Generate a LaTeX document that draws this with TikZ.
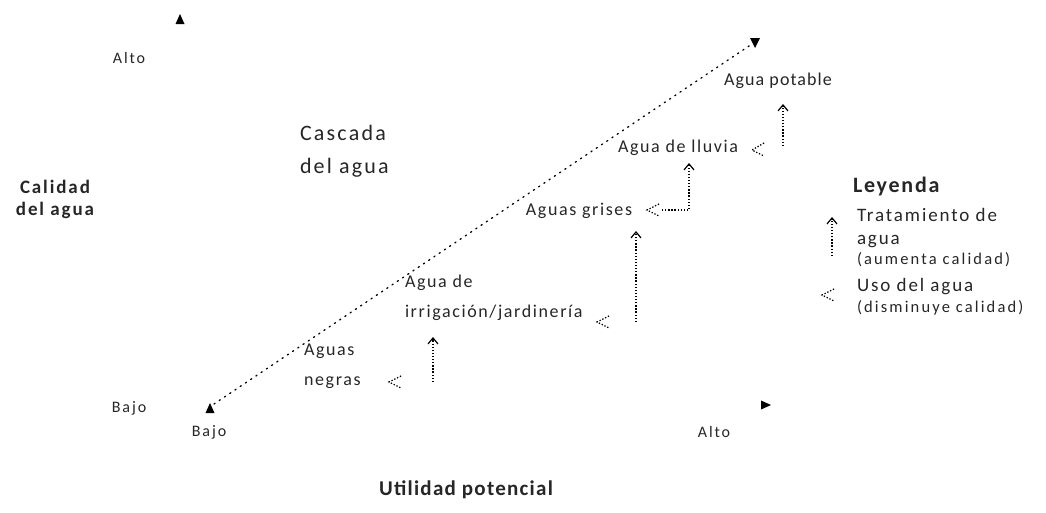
\documentclass[tikz,border=0pt]{standalone}
\usepackage{fontspec}
\setmainfont{Carlito}
\usetikzlibrary{arrows.meta}
\begin{document}
\begin{tikzpicture}[x=1pt,y=-1pt,
  every node/.style={inner sep=0pt,outer sep=0pt,text=black!85},
  small/.style={font=\addfontfeature{LetterSpace=12}\fontsize{16}{18}\selectfont},
  mid/.style={font=\addfontfeature{LetterSpace=9}\fontsize{18}{30}\selectfont},
  big/.style={font=\addfontfeature{LetterSpace=10}\fontsize{22}{33}\selectfont},
  leg/.style={font=\addfontfeature{LetterSpace=10}\fontsize{19}{23}\selectfont},
  bold/.style={font=\bfseries\addfontfeature{LetterSpace=10}\fontsize{19}{22}\selectfont},
  dots/.style={line width=1.3pt,dash pattern=on 1.3pt off 5pt,line cap=round},
  uparrow/.style={line width=1.3pt,dash pattern=on 1.3pt off 1.8pt,-{Straight Barb[length=6pt,width=10pt,line width=1.2pt]}},
  usemark/.style={line width=1.3pt,dash pattern=on 1.3pt off 1.8pt},
  tip/.style={fill=black}
]
\useasboundingbox (0,0) rectangle (1046,512);

% axis arrow tips
\fill[tip] (180,14) -- (175.5,24) -- (184.5,24) -- cycle;
\fill[tip] (771,405) -- (761,400.5) -- (761,409.5) -- cycle;

% axis labels
\node[small] (altoy) at (129,58) {Alto};
\node[small] (bajoy) at (129,408) {Bajo};
\node[small] (bajox) at (209,432) {Bajo};
\node[small] (altox) at (714,432) {Alto};
\node[bold,align=center] (calidad) at (55,199) {Calidad\\del agua};
\node[font=\bfseries\addfontfeature{LetterSpace=6}\fontsize{21}{24}\selectfont] (utilidad) at (466,490) {Utilidad potencial};

% cascade diagonal
\coordinate (cs) at (214,404);
\coordinate (ce) at (752,44);
\draw[dots] (cs) -- (ce);
\fill[tip] (210,403) -- (205.5,413) -- (214.5,413) -- cycle;
\fill[tip] (755,48) -- (750,38) -- (760,38) -- cycle;

\node[big,align=left,anchor=west] (cascada) at (300,151) {Cascada\\del agua};

% water types
\node[mid,font=\addfontfeature{LetterSpace=6}\fontsize{18}{30}\selectfont] (potable) at (778,81) {Agua potable};
\node[mid] (lluvia) at (678,148) {Agua de lluvia};
\node[mid] (grises) at (579,211) {Aguas grises};
\node[mid,align=left,anchor=west] (irrig) at (405,298) {Agua de\\irrigación/jardinería};
\node[mid,align=left,anchor=west] (negras) at (304,366) {Aguas\\negras};

% treatment arrows
\coordinate (t1s) at (783,146);
\draw[uparrow] (t1s) -- (783,104);
\coordinate (g1) at (662,210);
\coordinate (g2) at (689,210);
\draw[uparrow] (g1) -- (g2) -- (689,163);
\coordinate (t3s) at (636,322);
\draw[uparrow] (t3s) -- (636,231);
\coordinate (t4s) at (433,382);
\draw[uparrow] (t4s) -- (433,337);

% use marks
\draw[usemark] (764,143) -- (752,150) -- (764,156);
\draw[usemark] (659,204) -- (647,210) -- (659,216);
\draw[usemark] (609,316) -- (597,322) -- (609,328);
\draw[usemark] (401,376) -- (389,382) -- (401,388);

% legend
\node[font=\bfseries\addfontfeature{LetterSpace=8}\fontsize{22}{24}\selectfont,anchor=west] (leyenda) at (853,187) {Leyenda};
\coordinate (la) at (832,256);
\draw[uparrow] (la) -- (832,217);
\node[anchor=north west,align=left,leg] (trat) at (857,208) {Tratamiento de\\agua\\[-3pt]{\addfontfeature{LetterSpace=13}\fontsize{16.5}{20}\selectfont (aumenta calidad)}};
\draw[usemark] (834,289) -- (822,295) -- (834,301);
\node[anchor=north west,align=left,leg] (uso) at (857,278) {Uso del agua\\[-2pt]{\addfontfeature{LetterSpace=13}\fontsize{16.5}{20}\selectfont (disminuye calidad)}};
\end{tikzpicture}
\end{document}
